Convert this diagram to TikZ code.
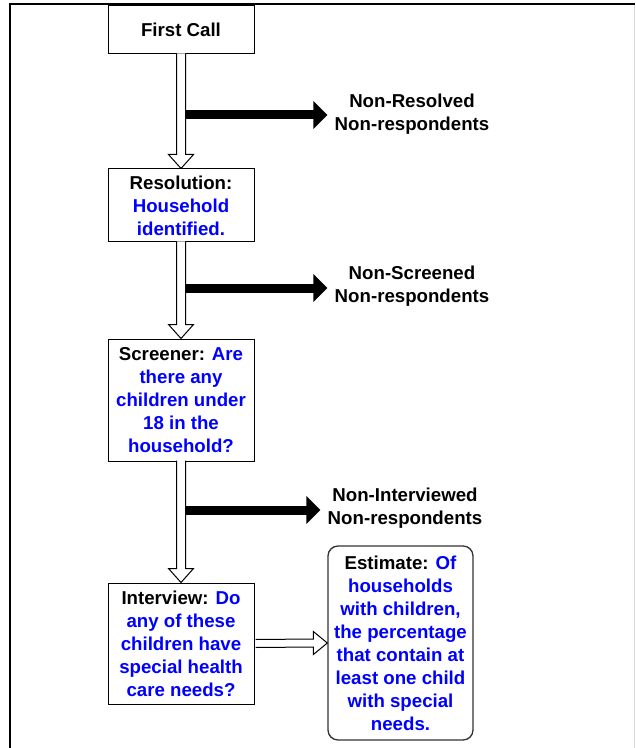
\documentclass[tikz,border=0pt]{standalone}
\usepackage{fontspec}
\setmainfont{Liberation Sans}
\usetikzlibrary{calc,arrows.meta}
\newcommand\bl[1]{\textcolor{blue}{#1}}
\tikzset{
  txt/.style={font=\bfseries\fontsize{14}{17.25}\selectfont, align=center},
  box/.style={txt, draw, line width=0.75pt, minimum width=109.5pt, inner sep=0pt},
  ebox/.style={txt, draw=black!80, line width=1pt, rounded corners=7.5pt, minimum width=108.75pt, minimum height=145.5pt, inner sep=0pt},
  lab/.style={txt, inner sep=5.25pt},
  hollow/.style={draw, fill=white, line width=0.75pt, line join=miter},
  blk/.style={line width=6.75pt, -{Triangle[length=10.5pt,width=20.25pt]}},
}
\begin{document}
\begin{tikzpicture}[x=0.75pt,y=-0.75pt]
\useasboundingbox (0,0) rectangle (635,748);
% frame
\draw[black!15, line width=0.75pt] (634,4) -- (634,748);
\draw[line width=1.5pt] (10,748) -- (10,4) -- (635,4);

% boxes
\node[box, minimum height=36pt] (fc) at (181,30) {First Call};
\node[box, minimum height=54.75pt] (res) at (181,205.5) {Resolution:\\ \bl{Household}\\ \bl{identified.}};
\node[box, minimum height=91.5pt] (scr) at (181,400) {Screener: \bl{Are}\\ \bl{there any}\\ \bl{children under}\\ \bl{18 in the}\\ \bl{household?}};
\node[box, minimum height=90.75pt] (int) at (181,643.5) {Interview: \bl{Do}\\ \bl{any of these}\\ \bl{children have}\\ \bl{special health}\\ \bl{care needs?}};
\node[ebox] (est) at (400.5,643) {Estimate: \bl{Of}\\ \bl{households}\\ \bl{with children,}\\ \bl{the percentage}\\ \bl{that contain at}\\ \bl{least one child}\\ \bl{with special}\\ \bl{needs.}};

% labels
\node[lab] (nr) at (412,114.5) {Non-Resolved\\Non-respondents};
\node[lab] (ns) at (412,286) {Non-Screened\\Non-respondents};
\node[lab] (ni) at (405,508) {Non-Interviewed\\Non-respondents};

% hollow vertical arrows
\foreach \a/\b in {fc/res, res/scr, scr/int}{
  \draw[hollow] ($(\a.south)+(-4.5,-1)$) -- ($(\b.north)+(-4.5,-14)$) -- ($(\b.north)+(-12.5,-14)$) -- (\b.north)
    -- ($(\b.north)+(12.5,-14)$) -- ($(\b.north)+(4.5,-14)$) -- ($(\a.south)+(4.5,-1)$);
}
% hollow horizontal arrow
\draw[hollow] ($(int.east)+(1,-4)$) -- ($(est.west)+(-14,-4)$) -- ($(est.west)+(-14,-11.5)$) -- (est.west)
  -- ($(est.west)+(-14,11.5)$) -- ($(est.west)+(-14,4)$) -- ($(int.east)+(1,4)$);

% black arrows
\coordinate (s1) at (186,115);
\coordinate (s2) at (186,288);
\coordinate (s3) at (186,510);
\draw[blk] (s1) -- (s1 -| nr.west);
\draw[blk] (s2) -- (s2 -| ns.west);
\draw[blk] (s3) -- (s3 -| ni.west);
\end{tikzpicture}
\end{document}
